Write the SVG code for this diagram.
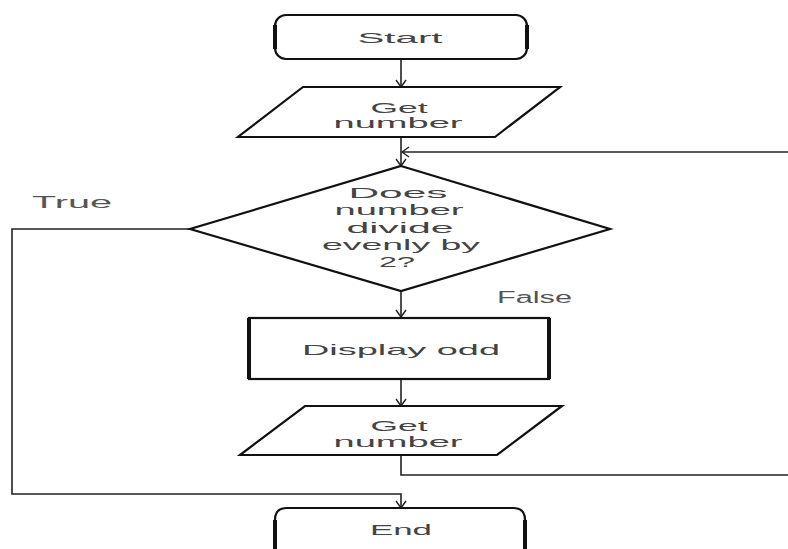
<svg xmlns="http://www.w3.org/2000/svg" width="788" height="549" viewBox="0 0 788 549">
<style>
.shape{fill:#fff;stroke:#111;stroke-width:2.2;stroke-linejoin:miter}
.side{stroke:#111;stroke-width:4;fill:none}
.conn{fill:none;stroke:#222;stroke-width:1.6}
.t{font-family:"Liberation Sans",Arial,sans-serif;font-size:15px;fill:#444;text-anchor:middle}
.s{font-size:14px}
.lbl{font-family:"Liberation Sans",Arial,sans-serif;font-size:16px;fill:#555}
</style>
<defs>
<marker id="arr" markerUnits="userSpaceOnUse" markerWidth="12" markerHeight="12" refX="8" refY="6" orient="auto">
<path d="M1,1 L8,6 L1,11" fill="none" stroke="#222" stroke-width="1.4"/>
</marker>
</defs>
<rect width="788" height="549" fill="#fff"/>
<g id="connectors">
<line class="conn" x1="401" y1="59" x2="401" y2="87" marker-end="url(#arr)"/>
<line class="conn" x1="401" y1="137" x2="401" y2="166" marker-end="url(#arr)"/>
<line class="conn" x1="788" y1="152" x2="402" y2="152" marker-end="url(#arr)"/>
<polyline class="conn" points="190,229 12,229 12,494 401,494 401,508" marker-end="url(#arr)"/>
<line class="conn" x1="401" y1="291" x2="401" y2="317" marker-end="url(#arr)"/>
<line class="conn" x1="401" y1="380" x2="401" y2="406" marker-end="url(#arr)"/>
<polyline class="conn" points="401,455 401,475 788,475"/>
</g>
<g id="start">
<rect class="shape" x="275" y="15" width="252" height="44" rx="11"/>
<line class="side" x1="275" y1="25" x2="275" y2="49"/>
<line class="side" x1="527" y1="25" x2="527" y2="49"/>
<text class="t" x="400" y="43" textLength="85" lengthAdjust="spacingAndGlyphs">Start</text>
</g>
<g id="get1">
<polygon class="shape" points="303,87 560,87 495,137 238,137"/>
<text class="t s" x="399" y="113" textLength="57" lengthAdjust="spacingAndGlyphs">Get</text>
<text class="t s" x="398" y="128" textLength="129" lengthAdjust="spacingAndGlyphs">number</text>
</g>
<g id="decision">
<polygon class="shape" points="401,166 610,229 401,291 190,229"/>
<text class="t s" x="398" y="198" textLength="99" lengthAdjust="spacingAndGlyphs">Does</text>
<text class="t s" x="399" y="215" textLength="129" lengthAdjust="spacingAndGlyphs">number</text>
<text class="t s" x="400" y="233" textLength="107" lengthAdjust="spacingAndGlyphs">divide</text>
<text class="t s" x="401" y="250" textLength="158" lengthAdjust="spacingAndGlyphs">evenly by</text>
<text class="t s" x="397" y="267" textLength="36" lengthAdjust="spacingAndGlyphs">2?</text>
</g>
<g id="display">
<rect class="shape" x="249" y="318" width="300" height="61"/>
<line class="side" x1="249" y1="318" x2="249" y2="379"/>
<line class="side" x1="549" y1="318" x2="549" y2="379"/>
<text class="t" x="401" y="355" textLength="198" lengthAdjust="spacingAndGlyphs">Display odd</text>
</g>
<g id="get2">
<polygon class="shape" points="305,406 562,406 497,455 240,455"/>
<text class="t s" x="399" y="431" textLength="57" lengthAdjust="spacingAndGlyphs">Get</text>
<text class="t s" x="398" y="447" textLength="129" lengthAdjust="spacingAndGlyphs">number</text>
</g>
<g id="end">
<path class="shape" d="M275,552 L275,520 Q275,508 287,508 L513,508 Q525,508 525,520 L525,552"/>
<line class="side" x1="275" y1="520" x2="275" y2="549"/>
<line class="side" x1="525" y1="520" x2="525" y2="549"/>
<text class="t" x="401" y="535" textLength="62" lengthAdjust="spacingAndGlyphs">End</text>
</g>
<g id="labels">
<text class="lbl" x="32" y="208" textLength="80" lengthAdjust="spacingAndGlyphs">True</text>
<text class="lbl" x="497" y="303" textLength="75" lengthAdjust="spacingAndGlyphs">False</text>
</g>
</svg>
